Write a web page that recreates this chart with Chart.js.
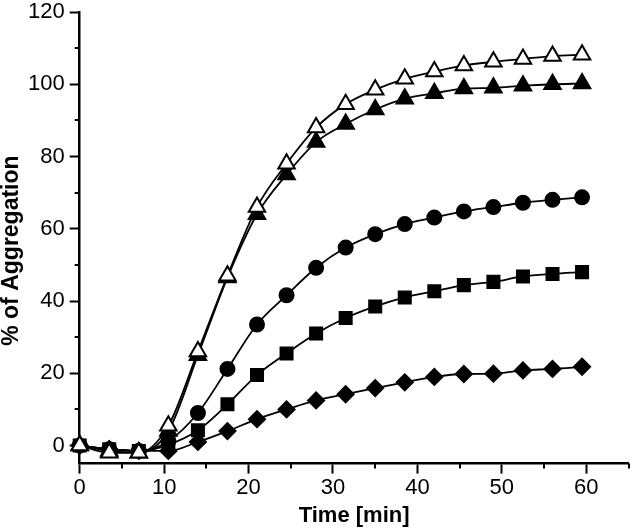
<!DOCTYPE html>
<html>
<head>
<meta charset="utf-8">
<script src="https://cdn.jsdelivr.net/npm/chart.js@4.4.1/dist/chart.umd.min.js"></script>
<style>
  html, body { margin: 0; padding: 0; background: #fff; }
  #wrap { width: 640px; height: 528px; }
</style>
</head>
<body>
<div id="wrap"><canvas id="aggChart" width="640" height="528"></canvas></div>
<script>
// sampling times (min)
const timeMin = [0, 3.5, 7, 10.5, 14, 17.5, 21, 24.5, 28, 31.5, 35, 38.5, 42, 45.5, 49, 52.5, 56, 59.5];

// % of aggregation, one array per curve
const openTriangle = [0, -2, -2, 5.5, 26, 47, 66, 78, 88, 94.5, 98.5, 101.5, 103.5, 105.2, 106.2, 107, 107.8, 108.2];
const filledTriangle = [0, -1.5, -2, 4, 25, 46.5, 64, 75, 84, 89, 93, 96, 97.5, 98.8, 99, 99.6, 100, 100.2];
const circles = [0, -1, -1.5, 1.2, 9, 21.2, 33.5, 41.6, 49.2, 54.8, 58.5, 61.3, 63.1, 64.8, 66, 67.2, 68, 68.7];
const squares = [0, -1, -1.5, 0.2, 4.2, 11.4, 19.5, 25.5, 31, 35.3, 38.5, 41, 42.7, 44.4, 45.3, 46.8, 47.5, 48];
const diamonds = [0, -1, -1.5, -1.5, 1, 4, 7.3, 10, 12.5, 14.2, 15.9, 17.5, 19, 19.8, 19.9, 20.8, 21.2, 21.8];

// axis ticks
const xTicks = [0, 10, 20, 30, 40, 50, 60];
const xMinorTicks = [5, 15, 25, 35, 45, 55, 65];
const yTicks = [0, 20, 40, 60, 80, 100, 120];
const yMinorTicks = [10, 30, 50, 70, 90, 110];

function toPoints(values) {
    return values.map((v, i) => ({ x: timeMin[i], y: v }));
}

function makeSet(label, values, style, radius, fill) {
    return {
        label: label,
        data: toPoints(values),
        borderColor: '#000',
        borderWidth: 1.8,
        pointStyle: style,
        pointRadius: radius,
        pointHoverRadius: radius,
        pointBackgroundColor: fill,
        pointBorderColor: '#000',
        pointBorderWidth: 2,
        cubicInterpolationMode: 'monotone',
        clip: false,
        fill: false
    };
}

// short outward minor ticks on both axes
const minorTicks = {
    id: 'minorTicks',
    afterDraw(chart) {
        const ctx = chart.ctx;
        const xs = chart.scales.x;
        const ys = chart.scales.y;
        ctx.save();
        ctx.strokeStyle = '#000';
        ctx.lineWidth = 2;
        ctx.beginPath();
        xMinorTicks.forEach(v => {
            const px = Math.round(xs.getPixelForValue(v));
            ctx.moveTo(px, xs.top);
            ctx.lineTo(px, xs.top + 5);
        });
        yMinorTicks.forEach(v => {
            const py = Math.round(ys.getPixelForValue(v));
            ctx.moveTo(ys.right, py);
            ctx.lineTo(ys.right - 5, py);
        });
        ctx.stroke();
        ctx.restore();
    }
};

const ctx = document.getElementById('aggChart').getContext('2d');

new Chart(ctx, {
    type: 'line',
    data: {
        datasets: [
            makeSet('open triangle', openTriangle, 'triangle', 9.5, '#fff'),
            makeSet('filled triangle', filledTriangle, 'triangle', 9.5, '#000'),
            makeSet('circle', circles, 'circle', 7, '#000'),
            makeSet('square', squares, 'rect', 8.5, '#000'),
            makeSet('diamond', diamonds, 'rectRot', 8, '#000')
        ]
    },
    options: {
        responsive: false,
        animation: false,
        layout: { padding: { left: 0, top: 12, right: 2, bottom: 0 } },
        plugins: {
            legend: { display: false },
            tooltip: { enabled: false }
        },
        scales: {
            x: {
                type: 'linear',
                min: 0,
                max: 65,
                afterBuildTicks: scale => { scale.ticks = xTicks.map(v => ({ value: v })); },
                afterFit: scale => { scale.paddingLeft = 0; scale.paddingRight = 0; },
                grid: { drawOnChartArea: false, drawTicks: true, tickLength: 10, tickWidth: 2, tickColor: '#000' },
                border: { color: '#000', width: 2.5 },
                ticks: { color: '#000', font: { family: 'Liberation Sans', size: 22, lineHeight: 1.1 }, padding: 2, maxRotation: 0 },
                title: {
                    display: true,
                    text: 'Time [min]',
                    color: '#000',
                    font: { family: 'Liberation Sans', size: 22, weight: 'bold', lineHeight: 1.1 },
                    padding: { top: 2, bottom: 0 }
                }
            },
            y: {
                type: 'linear',
                min: -5,
                max: 120,
                afterBuildTicks: scale => { scale.ticks = yTicks.map(v => ({ value: v })); },
                afterFit: scale => { scale.paddingTop = 0; scale.paddingBottom = 0; },
                grid: { drawOnChartArea: false, drawTicks: true, tickLength: 10, tickWidth: 2, tickColor: '#000' },
                border: { color: '#000', width: 2.5 },
                ticks: { color: '#000', font: { family: 'Liberation Sans', size: 22 }, padding: 5 },
                title: {
                    display: true,
                    // trailing spaces push the visible text a little lower, as in the figure
                    text: '% of Aggregation\u00a0\u00a0\u00a0\u00a0',
                    color: '#000',
                    font: { family: 'Liberation Sans', size: 23, weight: 'bold', lineHeight: 1.0 },
                    padding: { top: 0, bottom: 0 }
                }
            }
        }
    },
    plugins: [minorTicks]
});
</script>
</body>
</html>
